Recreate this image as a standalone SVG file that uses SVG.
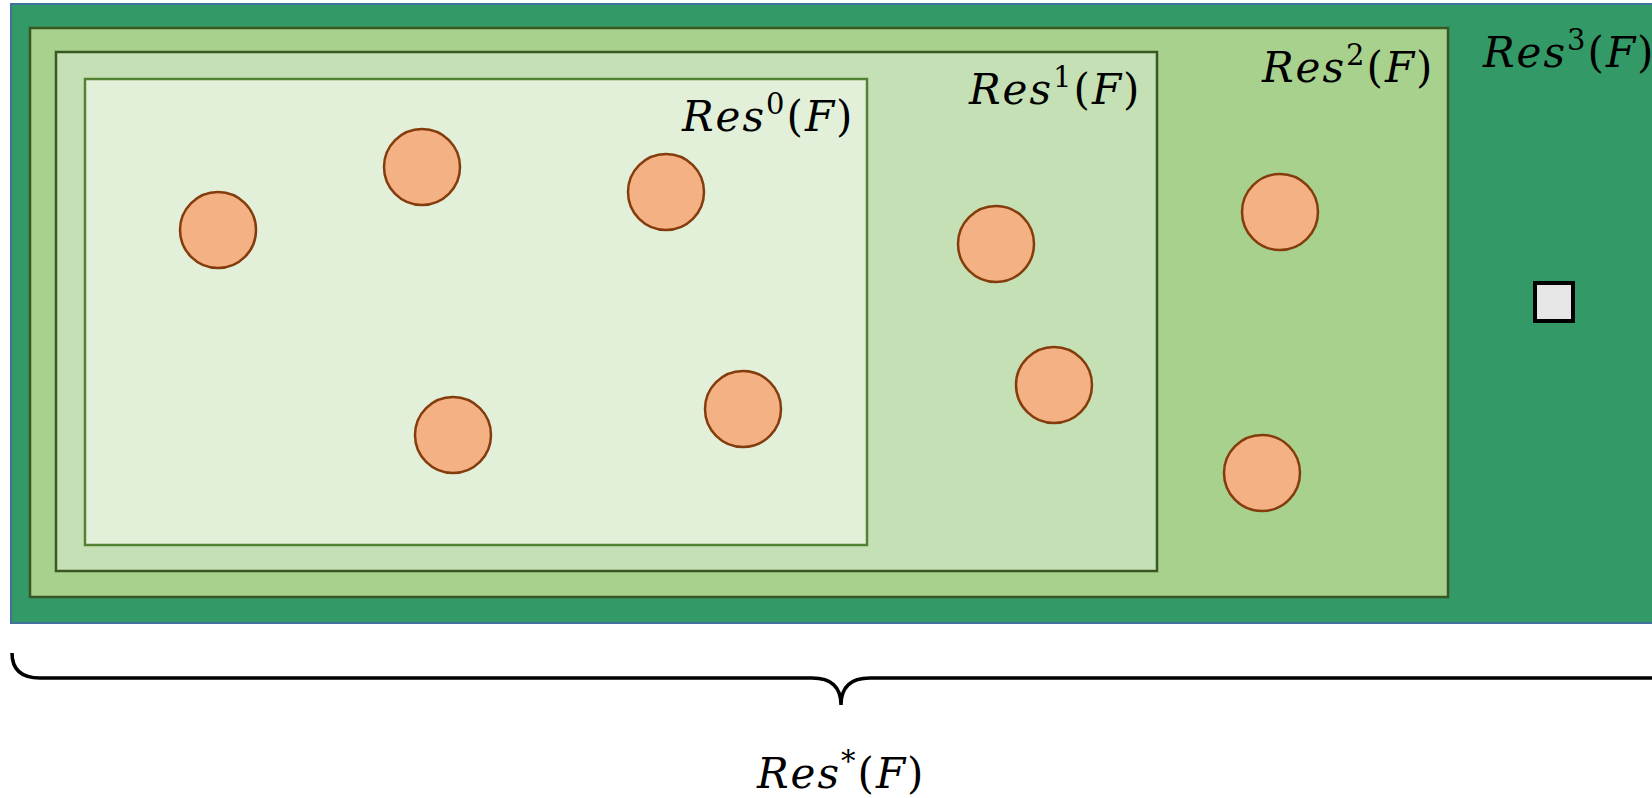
<svg xmlns="http://www.w3.org/2000/svg" width="1652" height="798" viewBox="0 0 1652 798">
<style>
.lbl{font-family:"DejaVu Serif","Liberation Serif",serif;font-size:42px;letter-spacing:2px;fill:#000}
.it{font-style:italic}
.sup{font-size:29px}
.pt{fill:#F4B183;stroke:#843C0C;stroke-width:2.5}
</style>
<rect width="1652" height="798" fill="#fff"/>
<g id="res3">
<rect x="11" y="4" width="1660" height="619" fill="#339966" stroke="#41719C" stroke-width="2"/>
<text class="lbl" x="1483" y="67"><tspan class="it">Res</tspan><tspan class="sup" dy="-17">3</tspan><tspan dy="17">(</tspan><tspan class="it">F</tspan>)</text>
</g>
<g id="res2">
<rect x="30" y="28" width="1418" height="569" fill="#A9D18E" stroke="#385723" stroke-width="2.5"/>
<text class="lbl" x="1262" y="82"><tspan class="it">Res</tspan><tspan class="sup" dy="-17">2</tspan><tspan dy="17">(</tspan><tspan class="it">F</tspan>)</text>
</g>
<g id="res1">
<rect x="56" y="52" width="1101" height="519" fill="#C5E0B4" stroke="#385723" stroke-width="2.5"/>
<text class="lbl" x="969" y="104"><tspan class="it">Res</tspan><tspan class="sup" dy="-17">1</tspan><tspan dy="17">(</tspan><tspan class="it">F</tspan>)</text>
</g>
<g id="res0">
<rect x="85" y="79" width="782" height="466" fill="#E2F0D9" stroke="#548235" stroke-width="2.5"/>
<text class="lbl" x="682" y="131"><tspan class="it">Res</tspan><tspan class="sup" dy="-17">0</tspan><tspan dy="17">(</tspan><tspan class="it">F</tspan>)</text>
</g>
<g id="points">
<circle class="pt" cx="218" cy="230" r="38"/>
<circle class="pt" cx="422" cy="167" r="38"/>
<circle class="pt" cx="666" cy="192" r="38"/>
<circle class="pt" cx="453" cy="435" r="38"/>
<circle class="pt" cx="743" cy="409" r="38"/>
<circle class="pt" cx="996" cy="244" r="38"/>
<circle class="pt" cx="1054" cy="385" r="38"/>
<circle class="pt" cx="1280" cy="212" r="38"/>
<circle class="pt" cx="1262" cy="473" r="38"/>
</g>
<g id="square">
<rect x="1535" y="283" width="38" height="38" fill="#E7E6E6" stroke="#000" stroke-width="4"/>
</g>
<g id="connectors">
<path d="M12,653 Q12,678 40,678 L812,678 Q841,678 841,705 Q841,678 870,678 L1660,678" fill="none" stroke="#000" stroke-width="3.5"/>
</g>
<g id="resstar">
<text class="lbl" x="757" y="788"><tspan class="it">Res</tspan><tspan class="sup" dy="-17">*</tspan><tspan dy="17">(</tspan><tspan class="it">F</tspan>)</text>
</g>
</svg>
